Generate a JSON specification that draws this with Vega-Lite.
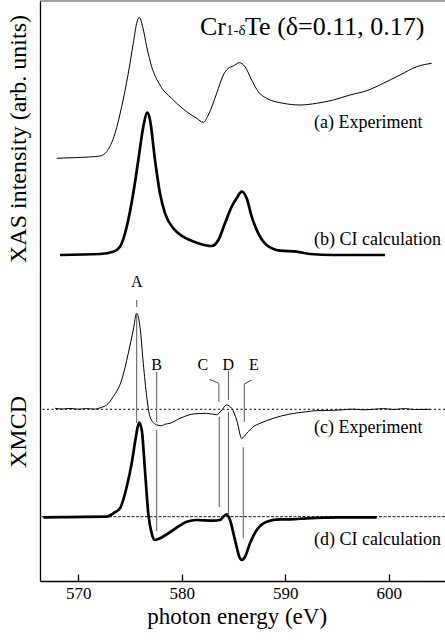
{
  "$schema": "https://vega.github.io/schema/vega-lite/v6.json",
  "autosize": "none",
  "width": 405,
  "height": 580,
  "padding": {"left": 40, "top": 1, "right": 0, "bottom": 61},
  "background": "white",
  "config": {"view": {"stroke": null}, "font": "Liberation Serif, Times New Roman, serif"},
  "datasets": {
    "curves": [
      {"s": "a", "k": "exp", "x": 567.91, "y": 422.7}, {"s": "a", "k": "exp", "x": 569.5, "y": 423.3}, {"s": "a", "k": "exp", "x": 571.0, "y": 424.0}, {"s": "a", "k": "exp", "x": 572.10, "y": 425}, {"s": "a", "k": "exp", "x": 572.74, "y": 429.3}, {"s": "a", "k": "exp", "x": 573.55, "y": 447.7}, {"s": "a", "k": "exp", "x": 574.19, "y": 474.3}, {"s": "a", "k": "exp", "x": 574.83, "y": 507.7}, {"s": "a", "k": "exp", "x": 575.31, "y": 537.7}, {"s": "a", "k": "exp", "x": 575.64, "y": 557.7}, {"s": "a", "k": "exp", "x": 575.89, "y": 563.7}, {"s": "a", "k": "exp", "x": 576.22, "y": 554.3}, {"s": "a", "k": "exp", "x": 576.61, "y": 534.3}, {"s": "a", "k": "exp", "x": 577.09, "y": 514.3}, {"s": "a", "k": "exp", "x": 577.89, "y": 496}, {"s": "a", "k": "exp", "x": 579.18, "y": 481}, {"s": "a", "k": "exp", "x": 580.47, "y": 469.3}, {"s": "a", "k": "exp", "x": 581.44, "y": 462.7}, {"s": "a", "k": "exp", "x": 582.08, "y": 458.7}, {"s": "a", "k": "exp", "x": 582.56, "y": 466}, {"s": "a", "k": "exp", "x": 583.37, "y": 487.7}, {"s": "a", "k": "exp", "x": 584.01, "y": 506}, {"s": "a", "k": "exp", "x": 584.49, "y": 512.7}, {"s": "a", "k": "exp", "x": 584.98, "y": 515}, {"s": "a", "k": "exp", "x": 585.56, "y": 518.3}, {"s": "a", "k": "exp", "x": 586.11, "y": 514.3}, {"s": "a", "k": "exp", "x": 586.75, "y": 501}, {"s": "a", "k": "exp", "x": 587.39, "y": 489.3}, {"s": "a", "k": "exp", "x": 588.20, "y": 482.7}, {"s": "a", "k": "exp", "x": 589.81, "y": 477.7}, {"s": "a", "k": "exp", "x": 591.42, "y": 476}, {"s": "a", "k": "exp", "x": 593.03, "y": 477.7}, {"s": "a", "k": "exp", "x": 594.64, "y": 481}, {"s": "a", "k": "exp", "x": 596.25, "y": 486}, {"s": "a", "k": "exp", "x": 597.86, "y": 490.3}, {"s": "a", "k": "exp", "x": 599.47, "y": 497.7}, {"s": "a", "k": "exp", "x": 601.08, "y": 506}, {"s": "a", "k": "exp", "x": 602.70, "y": 514.3}, {"s": "a", "k": "exp", "x": 604.14, "y": 517.7},

      {"s": "b", "k": "calc", "x": 568.23, "y": 326}, {"s": "b", "k": "calc", "x": 572.10, "y": 327}, {"s": "b", "k": "calc", "x": 573.38, "y": 329.3}, {"s": "b", "k": "calc", "x": 574.03, "y": 334.3}, {"s": "b", "k": "calc", "x": 574.68, "y": 354.3}, {"s": "b", "k": "calc", "x": 575.31, "y": 387.7}, {"s": "b", "k": "calc", "x": 575.80, "y": 421}, {"s": "b", "k": "calc", "x": 576.28, "y": 454.3}, {"s": "b", "k": "calc", "x": 576.67, "y": 468.3}, {"s": "b", "k": "calc", "x": 576.93, "y": 461}, {"s": "b", "k": "calc", "x": 577.41, "y": 421}, {"s": "b", "k": "calc", "x": 577.89, "y": 387.7}, {"s": "b", "k": "calc", "x": 578.38, "y": 367.7}, {"s": "b", "k": "calc", "x": 579.18, "y": 352.7}, {"s": "b", "k": "calc", "x": 580.14, "y": 344.3}, {"s": "b", "k": "calc", "x": 581.44, "y": 338.3}, {"s": "b", "k": "calc", "x": 582.89, "y": 335}, {"s": "b", "k": "calc", "x": 583.53, "y": 341}, {"s": "b", "k": "calc", "x": 584.17, "y": 357.7}, {"s": "b", "k": "calc", "x": 584.82, "y": 374.3}, {"s": "b", "k": "calc", "x": 585.30, "y": 382.7}, {"s": "b", "k": "calc", "x": 585.79, "y": 389.3}, {"s": "b", "k": "calc", "x": 586.27, "y": 382.7}, {"s": "b", "k": "calc", "x": 586.75, "y": 364.3}, {"s": "b", "k": "calc", "x": 587.39, "y": 347.7}, {"s": "b", "k": "calc", "x": 588.20, "y": 336}, {"s": "b", "k": "calc", "x": 589.49, "y": 330.3}, {"s": "b", "k": "calc", "x": 591.10, "y": 329.3}, {"s": "b", "k": "calc", "x": 592.39, "y": 327}, {"s": "b", "k": "calc", "x": 594.64, "y": 326}, {"s": "b", "k": "calc", "x": 599.63, "y": 326},

      {"s": "c", "k": "exp", "x": 567.75, "y": 172.7}, {"s": "c", "k": "exp", "x": 568.5, "y": 172.0}, {"s": "c", "k": "exp", "x": 569.2, "y": 172.6}, {"s": "c", "k": "exp", "x": 570.0, "y": 171.8}, {"s": "c", "k": "exp", "x": 570.8, "y": 172.4}, {"s": "c", "k": "exp", "x": 571.5, "y": 171.9}, {"s": "c", "k": "exp", "x": 572.26, "y": 173.7}, {"s": "c", "k": "exp", "x": 572.74, "y": 176}, {"s": "c", "k": "exp", "x": 573.38, "y": 184.3}, {"s": "c", "k": "exp", "x": 574.19, "y": 201}, {"s": "c", "k": "exp", "x": 574.83, "y": 227.7}, {"s": "c", "k": "exp", "x": 575.31, "y": 251}, {"s": "c", "k": "exp", "x": 575.64, "y": 267.7}, {"s": "c", "k": "exp", "x": 575.96, "y": 254.3}, {"s": "c", "k": "exp", "x": 576.28, "y": 217.7}, {"s": "c", "k": "exp", "x": 576.61, "y": 184.3}, {"s": "c", "k": "exp", "x": 576.93, "y": 164.3}, {"s": "c", "k": "exp", "x": 577.41, "y": 157}, {"s": "c", "k": "exp", "x": 577.7, "y": 155.8}, {"s": "c", "k": "exp", "x": 578.06, "y": 155.3}, {"s": "c", "k": "exp", "x": 578.4, "y": 156.8}, {"s": "c", "k": "exp", "x": 578.86, "y": 157.7}, {"s": "c", "k": "exp", "x": 579.83, "y": 162.7}, {"s": "c", "k": "exp", "x": 581.11, "y": 167}, {"s": "c", "k": "exp", "x": 582.41, "y": 167.7}, {"s": "c", "k": "exp", "x": 583.37, "y": 166.3}, {"s": "c", "k": "exp", "x": 583.86, "y": 171}, {"s": "c", "k": "exp", "x": 584.34, "y": 176}, {"s": "c", "k": "exp", "x": 584.82, "y": 172.7}, {"s": "c", "k": "exp", "x": 585.30, "y": 161}, {"s": "c", "k": "exp", "x": 585.79, "y": 142.7}, {"s": "c", "k": "exp", "x": 586.27, "y": 147.7}, {"s": "c", "k": "exp", "x": 586.91, "y": 154.3}, {"s": "c", "k": "exp", "x": 587.56, "y": 157.7}, {"s": "c", "k": "exp", "x": 588.84, "y": 162.7}, {"s": "c", "k": "exp", "x": 590.45, "y": 167}, {"s": "c", "k": "exp", "x": 592.07, "y": 169.3}, {"s": "c", "k": "exp", "x": 593.0, "y": 170.3}, {"s": "c", "k": "exp", "x": 594.0, "y": 170.5}, {"s": "c", "k": "exp", "x": 595.29, "y": 171.0}, {"s": "c", "k": "exp", "x": 596.5, "y": 171.9}, {"s": "c", "k": "exp", "x": 597.5, "y": 171.2}, {"s": "c", "k": "exp", "x": 598.5, "y": 171.7}, {"s": "c", "k": "exp", "x": 599.5, "y": 172.4}, {"s": "c", "k": "exp", "x": 600.5, "y": 171.5}, {"s": "c", "k": "exp", "x": 601.5, "y": 172.4}, {"s": "c", "k": "exp", "x": 602.5, "y": 171.5}, {"s": "c", "k": "exp", "x": 603.98, "y": 171.7},

      {"s": "d", "k": "calc", "x": 566.62, "y": 63.7}, {"s": "d", "k": "calc", "x": 572.74, "y": 64.3}, {"s": "d", "k": "calc", "x": 573.38, "y": 67.7}, {"s": "d", "k": "calc", "x": 574.03, "y": 72.7}, {"s": "d", "k": "calc", "x": 574.68, "y": 94.3}, {"s": "d", "k": "calc", "x": 575.16, "y": 117.7}, {"s": "d", "k": "calc", "x": 575.57, "y": 144.3}, {"s": "d", "k": "calc", "x": 575.86, "y": 158.3}, {"s": "d", "k": "calc", "x": 576.13, "y": 151}, {"s": "d", "k": "calc", "x": 576.44, "y": 111}, {"s": "d", "k": "calc", "x": 576.76, "y": 67.7}, {"s": "d", "k": "calc", "x": 577.09, "y": 47.7}, {"s": "d", "k": "calc", "x": 577.41, "y": 41}, {"s": "d", "k": "calc", "x": 577.89, "y": 42.7}, {"s": "d", "k": "calc", "x": 579.18, "y": 51}, {"s": "d", "k": "calc", "x": 580.47, "y": 59.3}, {"s": "d", "k": "calc", "x": 581.44, "y": 61}, {"s": "d", "k": "calc", "x": 583.04, "y": 60.3}, {"s": "d", "k": "calc", "x": 583.69, "y": 61}, {"s": "d", "k": "calc", "x": 584.01, "y": 64.3}, {"s": "d", "k": "calc", "x": 584.34, "y": 66.7}, {"s": "d", "k": "calc", "x": 584.66, "y": 61}, {"s": "d", "k": "calc", "x": 585.14, "y": 41}, {"s": "d", "k": "calc", "x": 585.62, "y": 22.7}, {"s": "d", "k": "calc", "x": 585.79, "y": 21}, {"s": "d", "k": "calc", "x": 586.11, "y": 24.3}, {"s": "d", "k": "calc", "x": 586.59, "y": 37.7}, {"s": "d", "k": "calc", "x": 587.24, "y": 51}, {"s": "d", "k": "calc", "x": 588.20, "y": 59.3}, {"s": "d", "k": "calc", "x": 589.49, "y": 61.7}, {"s": "d", "k": "calc", "x": 590.45, "y": 61.7}, {"s": "d", "k": "calc", "x": 592.07, "y": 62.7}, {"s": "d", "k": "calc", "x": 595.29, "y": 63.7}, {"s": "d", "k": "calc", "x": 598.83, "y": 63.7}
    ],
    "markers": [
      {"x": 575.64, "x2": 575.64, "y": 281, "y2": 274},
      {"x": 575.64, "x2": 575.64, "y": 268, "y2": 158},
      {"x": 577.57, "x2": 577.57, "y": 209, "y2": 159},
      {"x": 577.57, "x2": 577.57, "y": 151, "y2": 50},
      {"x": 582.66, "x2": 583.58, "y": 201.7, "y2": 197.7},
      {"x": 583.58, "x2": 583.58, "y": 197.7, "y2": 179.3},
      {"x": 583.62, "x2": 583.62, "y": 164, "y2": 74},
      {"x": 584.51, "x2": 584.51, "y": 210.3, "y2": 181},
      {"x": 584.51, "x2": 584.51, "y": 169, "y2": 66},
      {"x": 586.75, "x2": 586.04, "y": 201, "y2": 197},
      {"x": 586.04, "x2": 586.04, "y": 197, "y2": 159.3},
      {"x": 585.94, "x2": 585.94, "y": 133.7, "y2": 42.7}
    ],
    "letters": [
      {"t": "A", "x": 575.64, "y": 299.3},
      {"t": "B", "x": 577.57, "y": 216},
      {"t": "C", "x": 582.02, "y": 216},
      {"t": "D", "x": 584.49, "y": 216},
      {"t": "E", "x": 586.97, "y": 216}
    ],
    "labels": [
      {"t": "(a) Experiment", "x": 592.77, "y": 452.7},
      {"t": "(b) CI calculation", "x": 592.77, "y": 336},
      {"t": "(c) Experiment", "x": 592.77, "y": 148},
      {"t": "(d) CI calculation", "x": 592.77, "y": 36}
    ],
    "title": [
      {"t": "Cr", "x": 581.76, "y": 546, "sz": 26},
      {"t": "1-δ", "x": 584.27, "y": 546, "sz": 15},
      {"t": "Te (δ=0.11, 0.17)", "x": 586.11, "y": 546, "sz": 26}
    ],
    "ytitles": [
      {"t": "XAS intensity (arb. units)", "x": 564.27, "y": 442},
      {"t": "XMCD", "x": 564.27, "y": 149}
    ]
  },
  "layer": [
    {
      "data": {"name": "curves"},
      "transform": [{"filter": "datum.k == 'exp'"}],
      "mark": {"type": "line", "color": "black", "strokeWidth": 1, "interpolate": "monotone"},
      "encoding": {
        "x": {"field": "x", "type": "quantitative",
              "scale": {"domain": [566.3, 605.43], "nice": false, "zero": false},
              "axis": {"values": [570, 580, 590, 600], "grid": false, "tickSize": -7, "tickWidth": 1.3,
                       "tickColor": "black", "domainColor": "black", "domainWidth": 1.3,
                       "labelFont": "Liberation Serif, Times New Roman, serif", "labelFontSize": 17, "labelColor": "black", "labelPadding": 11,
                       "title": "photon energy (eV)", "titleFont": "Liberation Serif, Times New Roman, serif", "titleFontSize": 23,
                       "titleFontWeight": "normal", "titleColor": "black", "titlePadding": 4, "titleX": 196.7}},
        "y": {"field": "y", "type": "quantitative",
              "scale": {"domain": [0, 580], "nice": false, "zero": false},
              "axis": {"grid": false, "ticks": false, "labels": false, "title": null,
                       "domainColor": "black", "domainWidth": 1.3}},
        "detail": {"field": "s"}
      }
    },
    {
      "data": {"name": "curves"},
      "transform": [{"filter": "datum.k == 'calc'"}],
      "mark": {"type": "line", "color": "black", "strokeWidth": 2.7, "interpolate": "monotone"},
      "encoding": {
        "x": {"field": "x", "type": "quantitative"},
        "y": {"field": "y", "type": "quantitative"},
        "detail": {"field": "s"}
      }
    },
    {
      "data": {"values": [{"y": 171.7}]},
      "mark": {"type": "rule", "color": "black", "strokeWidth": 1, "strokeDash": [2, 2.5]},
      "encoding": {"y": {"field": "y", "type": "quantitative"}}
    },
    {
      "data": {"values": [{"y": 64.3}]},
      "mark": {"type": "rule", "color": "black", "strokeWidth": 0.9, "strokeDash": [3, 1.5]},
      "encoding": {"y": {"field": "y", "type": "quantitative"}}
    },
    {
      "data": {"values": [{"y": 580}]},
      "mark": {"type": "rule", "color": "#444", "strokeWidth": 1},
      "encoding": {"y": {"field": "y", "type": "quantitative"}}
    },
    {
      "data": {"name": "markers"},
      "mark": {"type": "rule", "color": "#666", "strokeWidth": 1.1},
      "encoding": {
        "x": {"field": "x", "type": "quantitative"},
        "x2": {"field": "x2"},
        "y": {"field": "y", "type": "quantitative"},
        "y2": {"field": "y2"}
      }
    },
    {
      "data": {"name": "letters"},
      "mark": {"type": "text", "font": "Liberation Serif, Times New Roman, serif", "fontSize": 16, "color": "black", "align": "center", "baseline": "middle"},
      "encoding": {
        "x": {"field": "x", "type": "quantitative"},
        "y": {"field": "y", "type": "quantitative"},
        "text": {"field": "t"}
      }
    },
    {
      "data": {"name": "labels"},
      "mark": {"type": "text", "font": "Liberation Serif, Times New Roman, serif", "fontSize": 18, "color": "black", "align": "left", "baseline": "alphabetic"},
      "encoding": {
        "x": {"field": "x", "type": "quantitative"},
        "y": {"field": "y", "type": "quantitative"},
        "text": {"field": "t"}
      }
    },
    {
      "data": {"name": "title"},
      "mark": {"type": "text", "font": "Liberation Serif, Times New Roman, serif", "color": "black", "align": "left", "baseline": "alphabetic"},
      "encoding": {
        "x": {"field": "x", "type": "quantitative"},
        "y": {"field": "y", "type": "quantitative"},
        "text": {"field": "t"},
        "size": {"field": "sz", "type": "quantitative", "scale": null}
      }
    },
    {
      "data": {"name": "ytitles"},
      "mark": {"type": "text", "font": "Liberation Serif, Times New Roman, serif", "fontSize": 24, "color": "black", "align": "center", "baseline": "middle", "angle": 270, "clip": false},
      "encoding": {
        "x": {"field": "x", "type": "quantitative"},
        "y": {"field": "y", "type": "quantitative"},
        "text": {"field": "t"}
      }
    }
  ]
}
